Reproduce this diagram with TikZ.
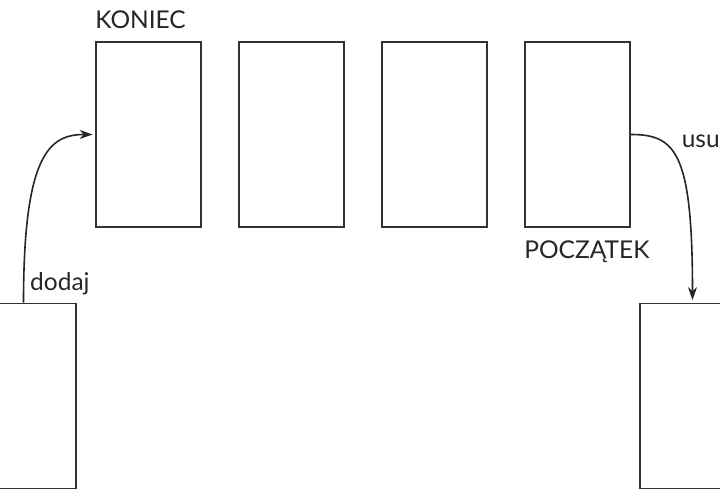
\documentclass[tikz,border=0pt]{standalone}
\usepackage{fontspec}
\setmainfont{Lato}
\usetikzlibrary{arrows.meta}

\begin{document}
\begin{tikzpicture}[x=1pt,y=-1pt,
    box/.style={draw=black!80, line width=1.8pt, minimum width=105pt, minimum height=185pt, inner sep=0pt},
    lbl/.style={text=black!85, font=\fontsize{24.5}{29}\selectfont, inner sep=0pt},
    move/.style={draw=black!85, line width=1.6pt, -{Stealth[length=13pt,width=9pt]}, shorten >=2.5pt}]
     % crop to the frame
      \clip (0,0) rectangle (720,500);

      % draw the row of boxes
       \foreach \i/\x in {1/148.5,2/291.5,3/434.5,4/577.5}
       \node[box] (p\i) at (\x,134.5) {};

      % draw the two outer boxes
       \node[box] (in) at (23.5,396) {};
       \node[box] (out) at (692.5,396) {};

        % draw labels
       \node[lbl, anchor=base west] (koniec) at ([yshift=13pt]p1.north west) {KONIEC};
       \node[lbl, anchor=base west] (poczatek) at ([yshift=-31pt]p4.south west) {POCZĄTEK};
       \node[lbl, anchor=base west] (dodaj) at ([xshift=6.5pt,yshift=12pt]in.north) {dodaj};
       \node[lbl, anchor=base east] (usun) at ([xshift=89pt,yshift=-13pt]p4.east) {usu};

       % draw arrows
       \draw[move] (in.north) .. controls +(0,-150) and +(-45,0) .. (p1.west);
       \draw[move] (p4.east) .. controls +(45,0) and +(0,-150) .. (out.north);

       \end{tikzpicture}
\end{document}
